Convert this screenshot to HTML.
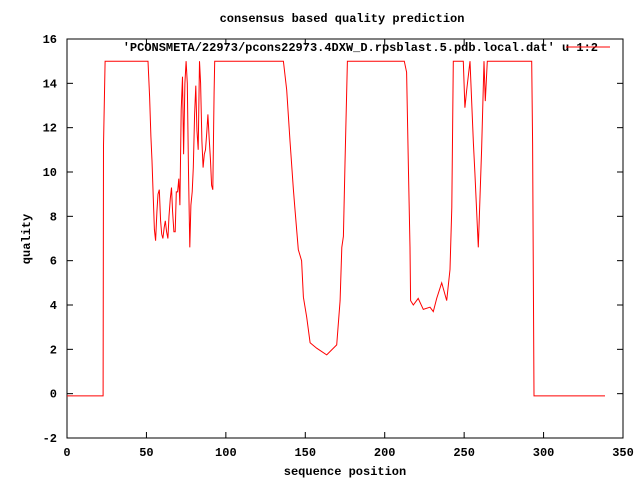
<!DOCTYPE html>
<html><head><meta charset="utf-8"><style>
body{margin:0;background:#fff}
text{font-family:"Liberation Mono",monospace;font-size:12px;font-weight:bold;fill:#000}
</style></head><body>
<svg id="chart" width="640" height="480" xmlns="http://www.w3.org/2000/svg">
<rect width="640" height="480" fill="#fff"/>
<text x="342" y="22" text-anchor="middle">consensus based quality prediction</text>
<text x="345" y="475" text-anchor="middle">sequence position</text>
<text transform="translate(30,239) rotate(-90)" text-anchor="middle">quality</text>
<g id="axes"></g>
<g id="series"></g>
<text x="598" y="51" text-anchor="end">'PCONSMETA/22973/pcons22973.4DXW_D.rpsblast.5.pdb.local.dat' u 1:2</text>
<line x1="566" y1="47" x2="610" y2="47" stroke="#f00" stroke-width="1"/>
</svg>
<script>
const xTicks=[0,50,100,150,200,250,300,350];
const yTicks=[-2,0,2,4,6,8,10,12,14,16];
const posX=[0,22.7,23,24,51,52,52.8,53.5,54.3,55,55.8,56.6,57.3,58.1,58.9,59.6,60.4,61.2,61.9,62.7,63.5,64.2,65,65.8,66.5,67.3,68.1,68.8,69.6,70.4,71.1,71.9,72.7,73.4,74.2,75,75.7,76.5,77.3,78,78.8,79.5,80.3,81.1,81.8,82.6,83.4,84.1,84.9,85.7,86.4,87.2,88,88.7,89.5,90.3,91,91.8,92.6,93,136.2,138.3,140.4,142.5,143.5,145.6,147.7,148.8,150.9,153,157.2,163.5,169.8,171.9,173,174,175,176.5,212.3,213.8,214.9,215.9,216.3,218,221.1,224.3,228.5,230.6,232.7,235.9,239,241.1,242.2,243.2,249.5,250.5,251.6,253.7,255.8,256.8,258.9,261,262.5,263.3,264.6,292.5,293.1,294,338.7];
const quality=[-0.1,-0.1,11.2,15,15,13.4,11.6,10.5,8.8,7.4,6.9,8.2,9.0,9.2,7.8,7.2,7.0,7.5,7.8,7.3,7.0,8.0,8.8,9.3,8.2,7.3,7.3,9.1,9.1,9.7,8.5,12.8,14.3,10.8,14.0,15,14.0,10.0,6.6,8.5,9.1,10.2,12.6,13.9,11.9,11.0,15,14.0,11.4,10.2,10.8,11.0,11.8,12.6,11.5,10.6,9.4,9.2,13.6,15,15,13.7,11.4,9.2,8.3,6.5,6.0,4.35,3.45,2.3,2.05,1.75,2.2,4.2,6.6,7.1,10.4,15,15,14.5,10.2,6.6,4.2,4.0,4.3,3.8,3.9,3.7,4.3,5.0,4.2,5.6,8.4,15,15,12.9,13.7,15,11.3,9.95,6.6,11,15,13.2,15,15,11.3,-0.1,-0.1];
const L=67,R=623,T=39,B=438,xMin=0,xMax=350,yMin=-2,yMax=16;
const sx=v=>L+(v-xMin)/(xMax-xMin)*(R-L);
const sy=v=>B-(v-yMin)/(yMax-yMin)*(B-T);
const NS='http://www.w3.org/2000/svg';
const ax=document.getElementById('axes');
function mk(t,a,p){const e=document.createElementNS(NS,t);for(const k in a)e.setAttribute(k,a[k]);p.appendChild(e);return e;}
const fr=mk('rect',{x:L,y:T,width:R-L,height:B-T,fill:'none',stroke:'#000','stroke-width':1},ax);


xTicks.forEach(v=>{const x=sx(v);
mk('line',{x1:x,y1:B,x2:x,y2:B-6,stroke:'#000'},ax);
mk('line',{x1:x,y1:T,x2:x,y2:T+6,stroke:'#000'},ax);
const t=mk('text',{x:x,y:B+18,'text-anchor':'middle'},ax);t.textContent=v;

});
yTicks.forEach(v=>{const y=sy(v);
mk('line',{x1:L,y1:y,x2:L+6,y2:y,stroke:'#000'},ax);
mk('line',{x1:R,y1:y,x2:R-6,y2:y,stroke:'#000'},ax);
const t=mk('text',{x:L-10,y:y+4,'text-anchor':'end'},ax);t.textContent=v;

});
const pts=posX.map((x,i)=>sx(x).toFixed(1)+','+sy(quality[i]).toFixed(1)).join(' ');
const pl=mk('polyline',{points:pts,fill:'none',stroke:'#f00','stroke-width':1},document.getElementById('series'));


</script>
</body></html>
